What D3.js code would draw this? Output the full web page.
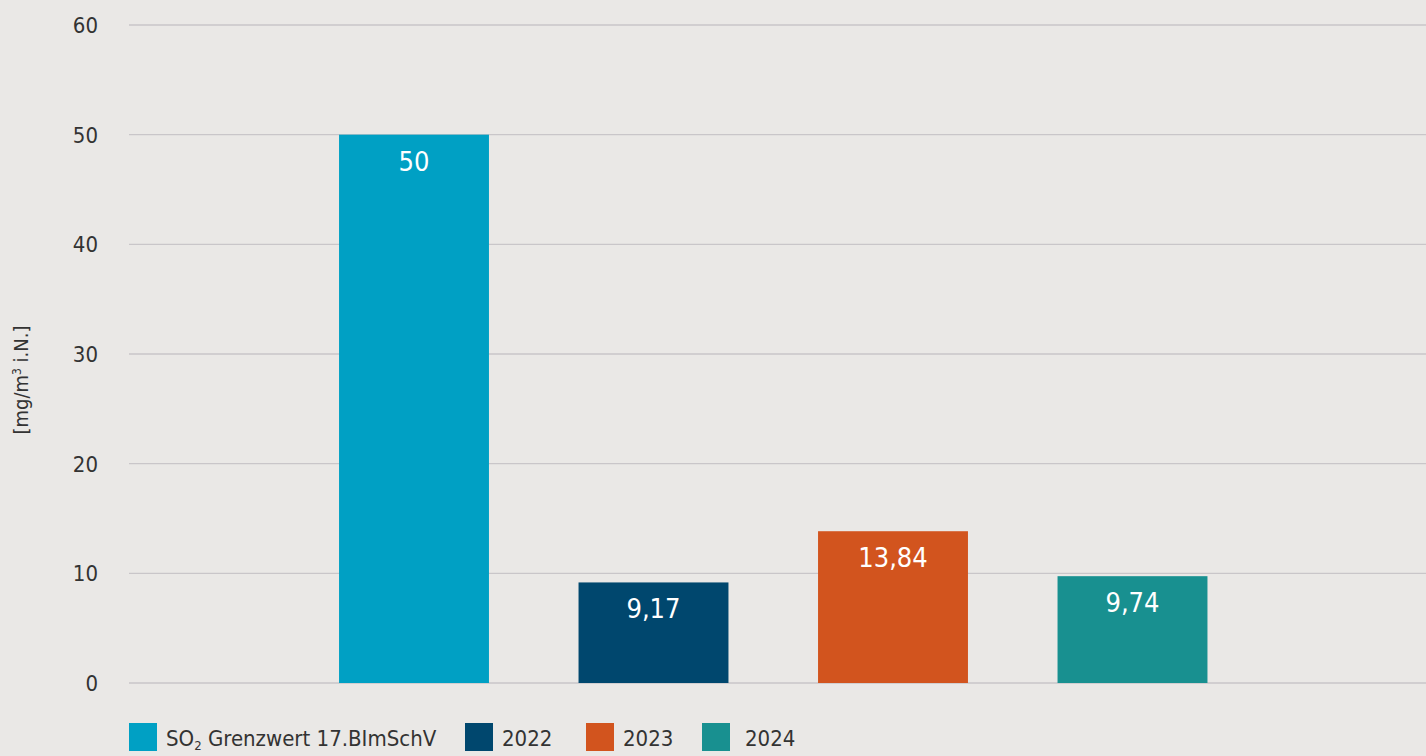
<!DOCTYPE html>
<html>
<head>
<meta charset="utf-8">
<script src="https://cdn.jsdelivr.net/npm/d3@7"></script>
<style>
  body { margin: 0; background: #eae8e6; }
  svg { display: block; font-family: "Liberation Sans Narrow", "DejaVu Sans Condensed", "Roboto", sans-serif; }
</style>
</head>
<body>
<svg id="chart" width="1426" height="756"></svg>
<script>
const categories = ["Grenzwert", "2022", "2023", "2024"];
const values = [50, 9.17, 13.84, 9.74];
const labels = ["50", "9,17", "13,84", "9,74"];
const colors = ["#00a0c4", "#00476e", "#d2541e", "#189090"];
const yTicks = [0, 10, 20, 30, 40, 50, 60];
const legendNames = ["Grenzwert 17.BImSchV", "2022", "2023", "2024"];

const svg = d3.select("#chart");

const x = d3.scaleBand()
    .domain(categories)
    .range([294.25, 1252.25])
    .paddingInner(0.374)
    .paddingOuter(0.187);

const y = d3.scaleLinear()
    .domain([0, 60])
    .range([683, 25]);

// grid lines
svg.append("g")
    .selectAll("line")
    .data(yTicks)
    .join("line")
    .attr("x1", 129)
    .attr("x2", 1426)
    .attr("y1", d => y(d))
    .attr("y2", d => y(d))
    .attr("stroke", "#c9c6c9")
    .attr("stroke-width", 1.3);

// y axis tick labels
svg.append("g")
    .selectAll("text")
    .data(yTicks)
    .join("text")
    .attr("x", 98)
    .attr("y", d => y(d) + 8)
    .attr("text-anchor", "end")
    .attr("fill", "#333")
    .style("font-size", "22px")
    .text(d => d);

// y axis title
const yTitle = svg.append("text")
    .attr("transform", "translate(28,380) rotate(-90)")
    .attr("text-anchor", "middle")
    .attr("fill", "#333")
    .style("font-size", "20px");
yTitle.append("tspan").text("[mg/m");
yTitle.append("tspan").attr("dy", -7).style("font-size", "12px").text("3");
yTitle.append("tspan").attr("dy", 7).text(" i.N.]");

// bars
svg.append("g")
    .selectAll("rect")
    .data(categories)
    .join("rect")
    .attr("x", d => x(d))
    .attr("width", x.bandwidth())
    .attr("y", (d, i) => y(values[i]))
    .attr("height", (d, i) => y(0) - y(values[i]))
    .attr("fill", (d, i) => colors[i]);

// value labels
svg.append("g")
    .selectAll("text")
    .data(categories)
    .join("text")
    .attr("x", d => x(d) + x.bandwidth() / 2)
    .attr("y", (d, i) => y(values[i]) + 36)
    .attr("text-anchor", "middle")
    .attr("fill", "white")
    .style("font-size", "27px")
    .text((d, i) => labels[i]);

// legend
const legendX = [129, 465, 586, 702];
const legend = svg.append("g");
legendNames.forEach((name, i) => {
    const item = legend.append("g")
        .attr("transform", `translate(${legendX[i]},723)`);
    item.append("rect")
        .attr("width", 28)
        .attr("height", 28)
        .attr("fill", colors[i]);
    const t = item.append("text")
        .attr("x", i === 3 ? 43 : 37)
        .attr("y", 23)
        .attr("fill", "#333")
        .style("font-size", "22px");
    if (i === 0) {
        t.append("tspan").text("SO");
        t.append("tspan").attr("dy", 4).style("font-size", "13px").text("2");
        t.append("tspan").attr("dy", -4).text(" " + name);
    } else {
        t.text(name);
    }
});
</script>
</body>
</html>
